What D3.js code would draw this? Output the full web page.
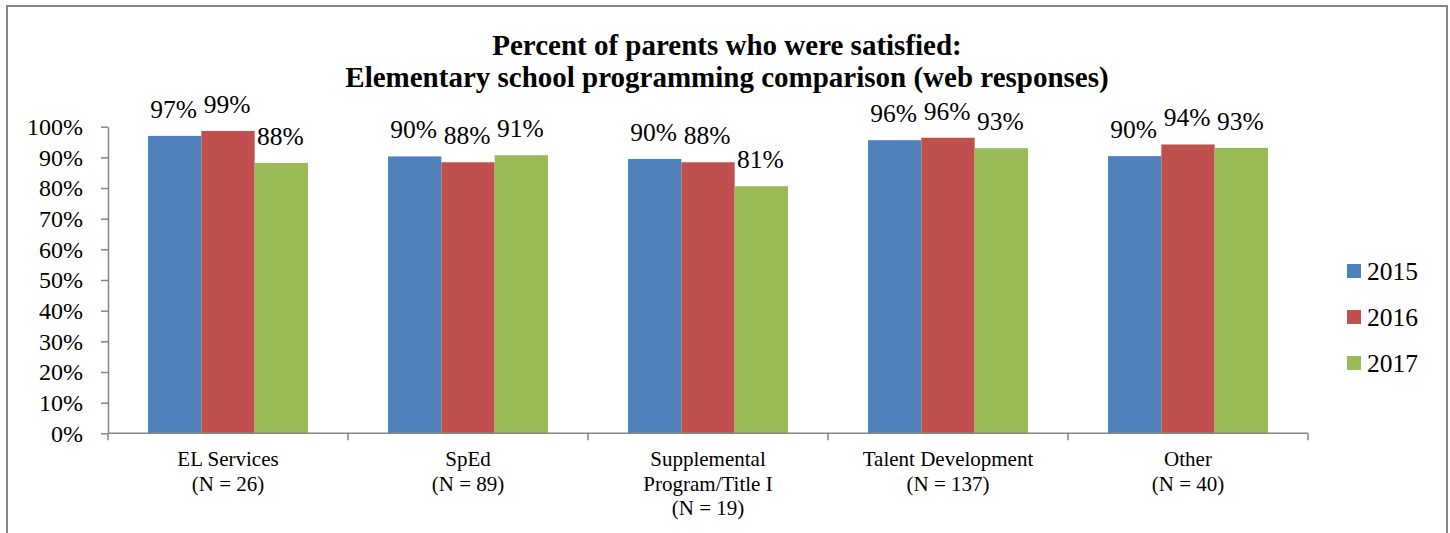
<!DOCTYPE html>
<html>
<head>
<meta charset="utf-8">
<script src="https://cdn.jsdelivr.net/npm/d3@7"></script>
<style>
  body { margin: 0; background: #fff; }
  text { font-family: "Liberation Serif", "Times New Roman", serif; fill: #000; }
</style>
</head>
<body>
<script>
// chart data
var categories = ["EL Services", "SpEd", "Supplemental", "Talent Development", "Other"];
var catLines = [
  ["EL Services", "(N = 26)"],
  ["SpEd", "(N = 89)"],
  ["Supplemental", "Program/Title I", "(N = 19)"],
  ["Talent Development", "(N = 137)"],
  ["Other", "(N = 40)"]
];
var years = ["2015", "2016", "2017"];
var v2015 = [97.0, 90.3, 89.5, 95.6, 90.4];
var v2016 = [98.6, 88.4, 88.4, 96.4, 94.2];
var v2017 = [88.2, 90.7, 80.6, 93.0, 93.1];
var yTicks = [0, 10, 20, 30, 40, 50, 60, 70, 80, 90, 100];
var colors = ["#4F81BD", "#C0504D", "#9BBB59"];

var width = 1450, height = 533;
var svg = d3.select("body").append("svg")
    .attr("width", width)
    .attr("height", height);

// outer frame
svg.append("rect")
    .attr("x", 7).attr("y", 6)
    .attr("width", 1440).attr("height", 540)
    .attr("fill", "none")
    .attr("stroke", "#868686")
    .attr("stroke-width", 2);

var plot = {left: 108, right: 1308, top: 126.7, bottom: 433.3};

var series = years.map(function(y, i) {
  return {year: y, values: [v2015, v2016, v2017][i], color: colors[i]};
});

var x0 = d3.scaleBand()
    .domain(categories)
    .range([plot.left, plot.right])
    .paddingInner(1/3)
    .paddingOuter(1/6);

var x1 = d3.scaleBand()
    .domain(years)
    .range([0, x0.bandwidth()]);

var y = d3.scaleLinear()
    .domain([0, 100])
    .range([plot.bottom, plot.top]);

// title
var title = svg.append("text")
    .attr("x", 727)
    .attr("text-anchor", "middle")
    .style("font-size", "29px")
    .style("font-weight", "bold");
title.append("tspan").attr("x", 727).attr("y", 55).text("Percent of parents who were satisfied:");
title.append("tspan").attr("x", 727).attr("y", 87).text("Elementary school programming comparison (web responses)");

// bars
var groups = svg.append("g").selectAll("g")
    .data(categories)
    .enter().append("g")
    .attr("transform", function(d) { return "translate(" + x0(d) + ",0)"; });

groups.selectAll("rect")
    .data(function(d, ci) {
      return series.map(function(s) { return {year: s.year, value: s.values[ci], color: s.color}; });
    })
    .enter().append("rect")
    .attr("x", function(d) { return x1(d.year); })
    .attr("y", function(d) { return y(d.value); })
    .attr("width", x1.bandwidth())
    .attr("height", function(d) { return y(0) - y(d.value); })
    .attr("fill", function(d) { return d.color; });

groups.selectAll("text.lbl")
    .data(function(d, ci) {
      return series.map(function(s) { return {year: s.year, value: s.values[ci]}; });
    })
    .enter().append("text")
    .attr("class", "lbl")
    .attr("x", function(d) { return x1(d.year) + x1.bandwidth() / 2 - 1; })
    .attr("y", function(d) { return y(d.value) - 18; })
    .attr("text-anchor", "middle")
    .style("font-size", "25.5px")
    .text(function(d) { return Math.round(d.value) + "%"; });

// y axis
var yAxis = svg.append("g")
    .attr("transform", "translate(" + plot.left + ",0)")
    .call(d3.axisLeft(y)
      .tickValues(yTicks)
      .tickFormat(function(d) { return d + "%"; })
      .tickSize(7)
      .tickSizeOuter(0)
      .tickPadding(18));
yAxis.select(".domain").attr("stroke", "#868686").attr("stroke-width", 1.5);
yAxis.selectAll(".tick line").attr("stroke", "#868686").attr("stroke-width", 1.5);
yAxis.selectAll(".tick text")
    .style("font-size", "24px")
    .style("font-family", "'Liberation Serif', 'Times New Roman', serif")
    .attr("fill", "#000")
    .attr("dy", "0.33em");

// x axis line
svg.append("line")
    .attr("x1", plot.left).attr("x2", plot.right)
    .attr("y1", y(0)).attr("y2", y(0))
    .attr("stroke", "#868686").attr("stroke-width", 1.5);

// boundary ticks between categories
var step = x0.step();
var bounds = categories.map(function(c) { return x0(c) - step * x0.paddingInner() / 2; });
bounds.push(bounds[bounds.length - 1] + step);
svg.append("g").selectAll("line")
    .data(bounds)
    .enter().append("line")
    .attr("x1", function(d) { return d; }).attr("x2", function(d) { return d; })
    .attr("y1", y(0)).attr("y2", y(0) + 7)
    .attr("stroke", "#868686").attr("stroke-width", 1.5);

// category labels
var catText = svg.append("g").selectAll("text")
    .data(categories)
    .enter().append("text")
    .attr("text-anchor", "middle")
    .style("font-size", "21px");
catText.each(function(d, i) {
  var cx = x0(d) + x0.bandwidth() / 2;
  d3.select(this).selectAll("tspan")
    .data(catLines[i])
    .enter().append("tspan")
    .attr("x", cx)
    .attr("y", function(t, j) { return 466 + j * 24.5; })
    .text(function(t) { return t; });
});

// legend
var legend = svg.append("g").selectAll("g")
    .data(series)
    .enter().append("g")
    .attr("transform", function(d, i) { return "translate(1347," + (271 + i * 46) + ")"; });
legend.append("rect")
    .attr("x", 0).attr("y", -7)
    .attr("width", 14).attr("height", 14)
    .attr("fill", function(d) { return d.color; });
legend.append("text")
    .attr("x", 20).attr("y", 9)
    .style("font-size", "25.5px")
    .text(function(d) { return d.year; });
</script>
</body>
</html>
